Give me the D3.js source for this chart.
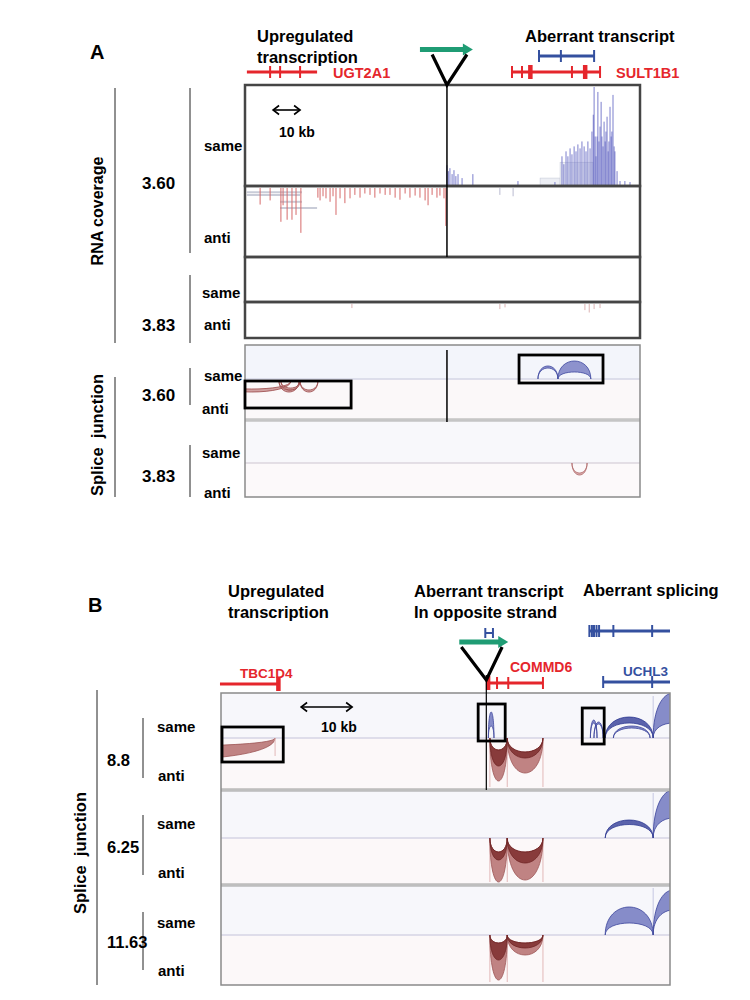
<!DOCTYPE html>
<html>
<head>
<meta charset="utf-8">
<script src="https://cdn.jsdelivr.net/npm/d3@7/dist/d3.min.js"></script>
<style>
    body { margin: 0; background: #fff; }
    text { font-family: "Liberation Sans", Arial, sans-serif; font-weight: bold; }
</style>
</head>
<body>
<div id="fig"></div>
<script>
// ---------- panel A data (positions in kb) ----------
var insA = 74.8;
var arrowA = [64.8, 84.4];
var vA = [69.3, 82.2];
var ugt2a1Span = [0.7, 26.7];
var ugt2a1Ticks = [9.3, 13.0, 20.4];
var sult1b1Span = [98.9, 131.5];
var sult1b1Ticks = [98.9, 102.6, 121.1, 131.5];
var sult1b1Thick = [105.6, 125.9];
var aberrantASpan = [108.9, 129.3];
var aberrantATicks = [108.9, 117.0, 129.3];
var scaleBarA = [10.4, 20.4];

// coverage, [kb, fraction of track height]
var covSame360 = [[74.8, .21], [75.3, .15], [75.9, .18], [76.7, .12], [77.4, .16], [78.1, .1], [78.9, .12],
    [80.4, .08], [84.4, .12], [101.1, .05], [114.8, .04], [117.4, .3], [118.1, .22], [118.9, .35], [119.6, .3],
    [120.4, .38], [121.1, .32], [121.9, .4], [122.6, .35], [123.3, .42], [124.1, .38], [124.8, .45], [125.6, .4],
    [126.3, .35], [127.0, .45], [127.8, .38], [128.5, .55], [129.0, .72], [129.3, 1.0], [129.7, .5], [130.0, .3],
    [130.4, .5], [130.7, .95], [131.1, .45], [131.5, .6], [131.9, .85], [132.2, .5], [132.6, .4], [133.0, .65],
    [133.4, .45], [133.7, .55], [134.1, .7], [134.5, .35], [134.8, .45], [135.2, .8], [135.6, .5], [135.9, .55],
    [136.3, .92], [136.7, .4], [137.0, .35], [137.8, .15], [138.9, .05], [140.7, .05], [142.6, .04]];
var readBlocksSame360 = [[109.3, 116.7, .08], [116.7, 128.9, .24]];
var covAnti360 = [[5.6, .24], [9.3, .18], [13.3, .49], [14.1, .25], [15.6, .46], [17.4, .46], [18.9, .39], [20.7, .65],
    [27.0, .14], [27.8, .18], [28.9, .12], [30.0, .15], [31.5, .2], [32.6, .12], [33.7, .39], [35.2, .15], [37.0, .22],
    [38.9, .15], [40.7, .1], [42.6, .14], [44.4, .08], [46.3, .1], [48.1, .14], [50.0, .08], [51.9, .1], [53.7, .1],
    [55.6, .14], [57.4, .17], [59.3, .08], [61.1, .14], [63.0, .11], [64.8, .14], [66.7, .18], [67.8, .25], [69.3, .1],
    [71.1, .14], [72.2, .11], [73.7, .15], [74.4, .55]];
var readLinesAnti360 = [[0.7, 21.1, .06], [0.7, 20.4, .1], [13.0, 21.1, .2], [13.0, 26.7, .29]];
var faintAnti360 = [[94.4, .1], [99.3, .12]];
var faintAnti383 = [[39.6, .12], [94.4, .15], [96.3, .1], [125.9, .18], [127.5, .25], [129.3, .15], [131.5, .12]];

// splice junctions, [start kb, end kb, outer reads, inner reads]
var juncSame360 = [[108.5, 115.9, 26, 22], [115.9, 128.1, 36, 14]];
var juncAnti360 = [[-12, 17.0, 22, 16], [12.6, 20.0, 22, 18], [13.3, 20.4, 18, 14], [20.4, 27.0, 22, 18]];
var juncAnti383 = [[121.1, 126.7, 24, 20]];
var boxesA = [[0, 39.3, 381, 408], [101.5, 132.6, 355, 383]];

// ---------- panel B data (positions in kb) ----------
var insB = 52.0;
var arrowB = [46.7, 56.3];
var vB = [47.1, 55.1];
var hMark = [51.8, 53.3];
var tbc1d4Span = [-0.2, 11.2];
var tbc1d4Thick = [11.2];
var commd6Span = [52.0, 63.1];
var commd6Ticks = [54.1, 56.3, 63.1];
var commd6Thick = [52.3];
var uchl3Span = [74.9, 88.0];
var uchl3Ticks = [74.9, 84.5];
var splicedSpan = [72.2, 88.0];
var splicedTicks = [72.2, 72.7, 73.1, 73.6, 74.1, 76.9, 84.5];
var scaleBarB = [15.7, 25.7];

var sampleNames = ["8.8", "6.25", "11.63"];
var juncSameB = [
    [[52.4, 53.5, 52, 24], [72.4, 73.7, 36, 30], [73.1, 74.9, 32, 28], [76.9, 84.1, 24, 20], [84.7, 92.5, 90, 30]],
    [[84.7, 92.5, 96, 40]],
    [[75.3, 84.7, 56, 24], [84.7, 92.5, 90, 50]]
];
var juncSameDarkB = [
    [[75.3, 84.7, 42, 30]],
    [[75.3, 84.7, 36, 27]],
    []
];
var juncAntiLightB = [
    [[-30, 10.6, 43, 16], [52.7, 56.1, 86, 24], [56.1, 63.1, 70, 28]],
    [[52.7, 56.1, 88, 28], [56.1, 63.1, 84, 28]],
    [[52.7, 56.1, 90, 16], [56.1, 63.1, 40, 16]]
];
var juncAntiDarkB = [
    [[52.7, 56.1, 56, 24], [56.1, 63.1, 40, 28]],
    [[52.7, 56.1, 44, 28], [56.1, 63.1, 50, 28]],
    [[52.7, 56.1, 50, 16], [56.1, 63.1, 26, 16]]
];
var boxesB = [[0.2, 12.2, 727, 762], [50.4, 55.7, 704, 741], [70.8, 75.1, 708, 744]];

// ---------- drawing ----------
var RED = "#e5262c", BLUE = "#34509f", GREEN = "#1f9c74";

var svg = d3.select("#fig").append("svg")
    .attr("width", 750)
    .attr("height", 1000);

var xA = d3.scaleLinear().domain([0, 146.3]).range([245, 640]);
var xB = d3.scaleLinear().domain([0, 88]).range([221, 670]);
var jy = d3.scaleLinear().domain([0, 100]).range([0, 50]);

drawPanelA();
drawPanelB();

function label(x, y, txt, size, color) {
    return svg.append("text")
        .attr("x", x)
        .attr("y", y)
        .style("font-size", size + "px")
        .attr("fill", color || "#000")
        .text(txt);
}

function vline(x, y1, y2, color, w) {
    svg.append("line")
        .attr("x1", x).attr("x2", x)
        .attr("y1", y1).attr("y2", y2)
        .attr("stroke", color || "#222")
        .attr("stroke-width", w || 1);
}

function drawGene(x, y, span, ticks, thick, color) {
    var g = svg.append("g");
    g.append("line")
        .attr("x1", x(span[0])).attr("x2", x(span[1]))
        .attr("y1", y).attr("y2", y)
        .attr("stroke", color)
        .attr("stroke-width", 3);
    g.selectAll(null).data(ticks).enter().append("line")
        .attr("x1", function (d) { return x(d); })
        .attr("x2", function (d) { return x(d); })
        .attr("y1", y - 6).attr("y2", y + 6)
        .attr("stroke", color)
        .attr("stroke-width", 2);
    g.selectAll(null).data(thick).enter().append("rect")
        .attr("x", function (d) { return x(d) - 2; })
        .attr("y", y - 7)
        .attr("width", 4.5)
        .attr("height", 14)
        .attr("fill", color);
}

function drawInsertion(x, y, arrow, v, ins, vBottom) {
    // green arrow
    svg.append("line")
        .attr("x1", x(arrow[0])).attr("x2", x(arrow[1]) - 8)
        .attr("y1", y).attr("y2", y)
        .attr("stroke", GREEN)
        .attr("stroke-width", 5);
    svg.append("path")
        .attr("d", "M" + (x(arrow[1]) - 10) + "," + (y - 6) + "L" + x(arrow[1]) + "," + y + "L" + (x(arrow[1]) - 10) + "," + (y + 6) + "Z")
        .attr("fill", GREEN);
    // insertion triangle
    svg.append("path")
        .attr("d", "M" + x(v[0]) + "," + (y + 5) + "L" + x(ins) + "," + vBottom + "L" + x(v[1]) + "," + (y + 5))
        .attr("fill", "none")
        .attr("stroke", "#000")
        .attr("stroke-width", 3.2);
}

function drawScaleBar(x, y, span, txtX, txtY) {
    var x1 = x(span[0]), x2 = x(span[1]);
    svg.append("line")
        .attr("x1", x1).attr("x2", x2)
        .attr("y1", y).attr("y2", y)
        .attr("stroke", "#000").attr("stroke-width", 1.6);
    svg.append("path")
        .attr("d", "M" + (x1 + 6) + "," + (y - 4.5) + "L" + x1 + "," + y + "L" + (x1 + 6) + "," + (y + 4.5) +
            "M" + (x2 - 6) + "," + (y - 4.5) + "L" + x2 + "," + y + "L" + (x2 - 6) + "," + (y + 4.5))
        .attr("fill", "none")
        .attr("stroke", "#000").attr("stroke-width", 1.6);
    label(txtX, txtY, "10 kb", 14);
}

function arcPath(x1, x2, base, hOut, hIn, dir) {
    // filled crescent between two bezier arcs, dir -1 = up, 1 = down
    var k = 4 / 3;
    return "M" + x1 + "," + base +
        "C" + x1 + "," + (base + dir * k * hOut) + " " + x2 + "," + (base + dir * k * hOut) + " " + x2 + "," + base +
        "C" + x2 + "," + (base + dir * k * hIn) + " " + x1 + "," + (base + dir * k * hIn) + " " + x1 + "," + base + "Z";
}

function drawArcs(g, x, data, base, dir, fill, stroke) {
    g.selectAll(null).data(data).enter().append("path")
        .attr("d", function (d) { return arcPath(x(d[0]), x(d[1]), base, jy(d[2]), jy(d[3]), dir); })
        .attr("fill", fill)
        .attr("fill-opacity", 0.85)
        .attr("stroke", stroke)
        .attr("stroke-width", 0.8);
}

function clipGroup(id, x, y, w, h) {
    svg.append("clipPath").attr("id", id)
        .append("rect").attr("x", x).attr("y", y).attr("width", w).attr("height", h);
    return svg.append("g").attr("clip-path", "url(#" + id + ")");
}

function drawPanelA() {
    label(90, 59, "A", 20);
    label(257, 42, "Upregulated", 16.5);
    label(257, 63, "transcription", 16.5);
    label(525, 42, "Aberrant transcript", 16.5);

    drawGene(xA, 56, aberrantASpan, aberrantATicks, [], BLUE);
    drawGene(xA, 72, ugt2a1Span, ugt2a1Ticks, [], RED);
    drawGene(xA, 72, sult1b1Span, sult1b1Ticks, sult1b1Thick, RED);
    label(333, 78, "UGT2A1", 14.5, RED);
    label(616, 78, "SULT1B1", 14.5, RED);

    // coverage tracks
    var rows = [[85, 186], [186, 257], [257, 302], [302, 338]];
    svg.selectAll(null).data(rows).enter().append("rect")
        .attr("x", 245).attr("width", 395)
        .attr("y", function (d) { return d[0]; })
        .attr("height", function (d) { return d[1] - d[0]; })
        .attr("fill", "#fff");

    var ySame = d3.scaleLinear().domain([0, 1]).range([186, 87]);
    svg.selectAll(null).data(readBlocksSame360).enter().append("rect")
        .attr("x", function (d) { return xA(d[0]); })
        .attr("width", function (d) { return xA(d[1]) - xA(d[0]); })
        .attr("y", function (d) { return ySame(d[2]); })
        .attr("height", function (d) { return 186 - ySame(d[2]); })
        .attr("fill", "#eceef4")
        .attr("stroke", "#c8ccd9")
        .attr("stroke-width", 0.6);
    svg.selectAll(null).data(covSame360).enter().append("line")
        .attr("x1", function (d) { return xA(d[0]); })
        .attr("x2", function (d) { return xA(d[0]); })
        .attr("y1", 186)
        .attr("y2", function (d) { return ySame(d[1]); })
        .attr("stroke", "#5b5fc0")
        .attr("stroke-opacity", 0.8)
        .attr("stroke-width", 1);

    var yAnti = d3.scaleLinear().domain([0, 1]).range([188, 257]);
    svg.selectAll(null).data(readLinesAnti360).enter().append("line")
        .attr("x1", function (d) { return xA(d[0]); })
        .attr("x2", function (d) { return xA(d[1]); })
        .attr("y1", function (d) { return yAnti(d[2]); })
        .attr("y2", function (d) { return yAnti(d[2]); })
        .attr("stroke", "#c9ccd8")
        .attr("stroke-width", 2);
    svg.selectAll(null).data(covAnti360).enter().append("line")
        .attr("x1", function (d) { return xA(d[0]); })
        .attr("x2", function (d) { return xA(d[0]); })
        .attr("y1", 188)
        .attr("y2", function (d) { return yAnti(d[1]); })
        .attr("stroke", "#d66a6a")
        .attr("stroke-width", 1);
    svg.selectAll(null).data(faintAnti360).enter().append("line")
        .attr("x1", function (d) { return xA(d[0]); })
        .attr("x2", function (d) { return xA(d[0]); })
        .attr("y1", 188)
        .attr("y2", function (d) { return yAnti(d[1]); })
        .attr("stroke", "#b9bbd0")
        .attr("stroke-width", 1);

    var yAnti383 = d3.scaleLinear().domain([0, 1]).range([304, 338]);
    svg.selectAll(null).data(faintAnti383).enter().append("line")
        .attr("x1", function (d) { return xA(d[0]); })
        .attr("x2", function (d) { return xA(d[0]); })
        .attr("y1", 304)
        .attr("y2", function (d) { return yAnti383(d[1]); })
        .attr("stroke", "#dcb4b4")
        .attr("stroke-width", 1);

    svg.selectAll(null).data(rows).enter().append("rect")
        .attr("x", 245).attr("width", 395)
        .attr("y", function (d) { return d[0]; })
        .attr("height", function (d) { return d[1] - d[0]; })
        .attr("fill", "none")
        .attr("stroke", "#454545")
        .attr("stroke-width", 2.5);

    vline(xA(insA), 85, 257, "#000", 1.5);
    drawScaleBar(xA, 110, scaleBarA, 279, 137);
    drawInsertion(xA, 49.5, arrowA, vA, insA, 85);

    // splice junction tracks
    var bands = [[345, 379, "#f3f5fb"], [379, 420, "#fbf8f9"], [420, 463, "#f8f8fb"], [463, 497, "#fcf9fa"]];
    svg.selectAll(null).data(bands).enter().append("rect")
        .attr("x", 245).attr("width", 395)
        .attr("y", function (d) { return d[0]; })
        .attr("height", function (d) { return d[1] - d[0]; })
        .attr("fill", function (d) { return d[2]; });
    svg.append("line").attr("x1", 245).attr("x2", 640).attr("y1", 379).attr("y2", 379)
        .attr("stroke", "#d5d6e6").attr("stroke-width", 1.5);
    svg.append("line").attr("x1", 245).attr("x2", 640).attr("y1", 463).attr("y2", 463)
        .attr("stroke", "#dcd6de").attr("stroke-width", 1.5);
    svg.append("line").attr("x1", 245).attr("x2", 640).attr("y1", 420).attr("y2", 420)
        .attr("stroke", "#a9a9a9").attr("stroke-width", 3);
    svg.append("line").attr("x1", 245).attr("x2", 640).attr("y1", 420).attr("y2", 420)
        .attr("stroke", "#e2e2e2").attr("stroke-width", 1);

    var gj = clipGroup("clipA", 245, 345, 395, 152);
    drawArcs(gj, xA, juncSame360, 379, -1, "#7a80c4", "#3d47a0");
    drawArcs(gj, xA, juncAnti360, 381, 1, "#c99292", "#9a4848");
    drawArcs(gj, xA, juncAnti383, 463, 1, "#d3a0a0", "#b06a6a");

    svg.append("rect")
        .attr("x", 245).attr("y", 345).attr("width", 395).attr("height", 152)
        .attr("fill", "none").attr("stroke", "#8a8a8a").attr("stroke-width", 1.5);
    vline(xA(insA), 350, 422, "#000", 1.5);

    svg.selectAll(null).data(boxesA).enter().append("rect")
        .attr("x", function (d) { return xA(d[0]); })
        .attr("width", function (d) { return xA(d[1]) - xA(d[0]); })
        .attr("y", function (d) { return d[2]; })
        .attr("height", function (d) { return d[3] - d[2]; })
        .attr("fill", "none")
        .attr("stroke", "#000")
        .attr("stroke-width", 2.8);

    // left labels
    vline(115, 88, 343);
    vline(190, 88, 253);
    vline(190, 275, 343);
    vline(115, 377, 497);
    vline(190, 368, 405);
    vline(190, 445, 497);
    label(0, 0, "RNA coverage", 16)
        .attr("text-anchor", "middle")
        .attr("transform", "translate(103,211) rotate(-90)");
    label(0, 0, "Splice  junction", 16.5)
        .attr("text-anchor", "middle")
        .style("white-space", "pre")
        .attr("transform", "translate(103,435) rotate(-90)");
    label(142, 189, "3.60", 17);
    label(142, 331, "3.83", 17);
    label(142, 401, "3.60", 17);
    label(142, 482, "3.83", 17);
    label(204, 151, "same", 15);
    label(204, 243, "anti", 15);
    label(202, 298, "same", 15);
    label(204, 330, "anti", 15);
    label(204, 381, "same", 15);
    label(202, 414, "anti", 15);
    label(202, 458, "same", 15);
    label(204, 498, "anti", 15);
}

function drawPanelB() {
    label(88, 612, "B", 20);
    label(228, 597, "Upregulated", 16.5);
    label(228, 618, "transcription", 16.5);
    label(414, 597, "Aberrant transcript", 16.5);
    label(414, 618, "In opposite strand", 16.5);
    label(583, 596, "Aberrant splicing", 16.5);

    // small blue H mark
    var hy = 633;
    svg.append("line").attr("x1", xB(hMark[0])).attr("x2", xB(hMark[1])).attr("y1", hy).attr("y2", hy)
        .attr("stroke", BLUE).attr("stroke-width", 2);
    svg.selectAll(null).data(hMark).enter().append("line")
        .attr("x1", function (d) { return xB(d); })
        .attr("x2", function (d) { return xB(d); })
        .attr("y1", hy - 5).attr("y2", hy + 5)
        .attr("stroke", BLUE).attr("stroke-width", 2);

    drawGene(xB, 631, splicedSpan, splicedTicks, [], BLUE);
    drawGene(xB, 684, tbc1d4Span, [], tbc1d4Thick, RED);
    drawGene(xB, 683, commd6Span, commd6Ticks, commd6Thick, RED);
    drawGene(xB, 682, uchl3Span, uchl3Ticks, [], BLUE);
    label(240, 678, "TBC1D4", 13.5, RED);
    label(510, 672, "COMMD6", 14, RED);
    label(623, 676, "UCHL3", 13.5, BLUE);

    // three samples
    var tracks = [[693, 790, 738], [790, 885, 838], [885, 985, 935]];
    svg.selectAll(null).data(tracks).enter().append("rect")
        .attr("x", 221).attr("width", 449)
        .attr("y", function (d) { return d[0]; })
        .attr("height", function (d) { return d[2] - d[0]; })
        .attr("fill", "#f7f7fb");
    svg.selectAll(null).data(tracks).enter().append("rect")
        .attr("x", 221).attr("width", 449)
        .attr("y", function (d) { return d[2]; })
        .attr("height", function (d) { return d[1] - d[2]; })
        .attr("fill", "#fcf8f9");
    svg.selectAll(null).data(tracks).enter().append("line")
        .attr("x1", 221).attr("x2", 670)
        .attr("y1", function (d) { return d[2]; })
        .attr("y2", function (d) { return d[2]; })
        .attr("stroke", "#d6d4e4")
        .attr("stroke-width", 1.5);

    var gj = clipGroup("clipB", 221, 693, 449, 292);
    tracks.forEach(function (t, i) {
        // endpoint lines
        var redEnds = [52.7, 56.1, 63.1];
        gj.selectAll(null).data(redEnds).enter().append("line")
            .attr("x1", function (d) { return xB(d); })
            .attr("x2", function (d) { return xB(d); })
            .attr("y1", t[2]).attr("y2", t[1] - 3)
            .attr("stroke", "#e2b8b8").attr("stroke-width", 1);
        gj.append("line")
            .attr("x1", xB(84.7)).attr("x2", xB(84.7))
            .attr("y1", t[0] + 3).attr("y2", t[2])
            .attr("stroke", "#c5c7e2").attr("stroke-width", 1);
        drawArcs(gj, xB, juncAntiLightB[i], t[2], 1, "#b56f6f", "#9d5555");
        drawArcs(gj, xB, juncAntiDarkB[i], t[2], 1, "#7e2f2f", "#6f2525");
        drawArcs(gj, xB, juncSameB[i], t[2], -1, "#7279c0", "#3c459c");
        drawArcs(gj, xB, juncSameDarkB[i], t[2], -1, "#3f499e", "#2f3a92");
    });
    gj.append("line")
        .attr("x1", xB(10.6)).attr("x2", xB(10.6))
        .attr("y1", 738).attr("y2", 756)
        .attr("stroke", "#e2b8b8").attr("stroke-width", 1);

    [790, 885].forEach(function (yy) {
        svg.append("line").attr("x1", 221).attr("x2", 670).attr("y1", yy).attr("y2", yy)
            .attr("stroke", "#9c9c9c").attr("stroke-width", 3);
        svg.append("line").attr("x1", 221).attr("x2", 670).attr("y1", yy).attr("y2", yy)
            .attr("stroke", "#e0e0e0").attr("stroke-width", 1);
    });
    svg.append("rect")
        .attr("x", 221).attr("y", 693).attr("width", 449).attr("height", 292)
        .attr("fill", "none").attr("stroke", "#8a8a8a").attr("stroke-width", 1.5);

    vline(xB(insB), 675, 790, "#000", 1.2);
    drawInsertion(xB, 642, arrowB, vB, insB, 680);
    drawScaleBar(xB, 707, scaleBarB, 321, 732);

    svg.selectAll(null).data(boxesB).enter().append("rect")
        .attr("x", function (d) { return xB(d[0]); })
        .attr("width", function (d) { return xB(d[1]) - xB(d[0]); })
        .attr("y", function (d) { return d[2]; })
        .attr("height", function (d) { return d[3] - d[2]; })
        .attr("fill", "none")
        .attr("stroke", "#000")
        .attr("stroke-width", 2.8);

    // left labels
    vline(97, 690, 985);
    label(0, 0, "Splice  junction", 16.5)
        .attr("text-anchor", "middle")
        .style("white-space", "pre")
        .attr("transform", "translate(86,853) rotate(-90)");
    var labY = [[718, 778, 766, 732, 781], [815, 875, 853, 829, 878], [912, 970, 948, 928, 976]];
    labY.forEach(function (d, i) {
        vline(143, d[0], d[1]);
        label(107, d[2], sampleNames[i], 16.5);
        label(157, d[3], "same", 15);
        label(158, d[4], "anti", 15);
    });
}
</script>
</body>
</html>
